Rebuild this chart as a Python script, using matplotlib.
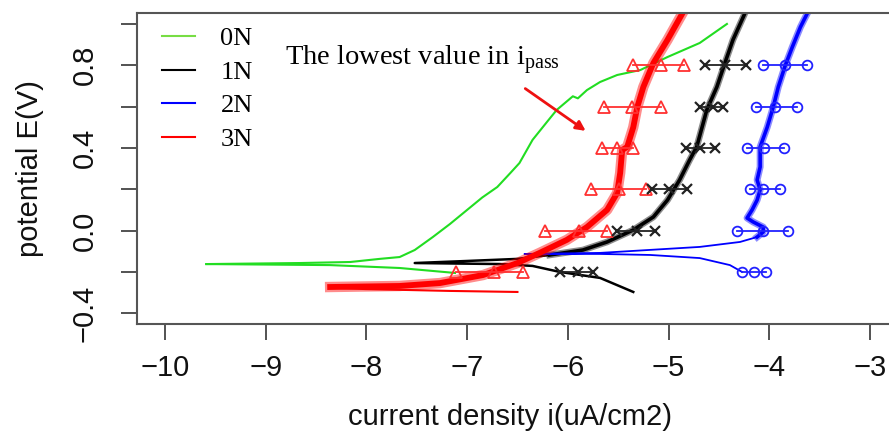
import numpy as np
import matplotlib.pyplot as plt
import matplotlib.patheffects as pe
from matplotlib.lines import Line2D

plt.rcParams['font.family'] = ['Liberation Sans', 'DejaVu Sans']
plt.rcParams['mathtext.fontset'] = 'custom'
plt.rcParams['mathtext.rm'] = 'Liberation Serif'

# curves: log current density vs potential
# 0N
green_cath_x = [-9.59, -8.36, -7.67, -7.12]
green_cath_E = [-0.162, -0.167, -0.181, -0.205]
green_x = [-9.59, -8.66, -8.16, -7.87, -7.67, -7.52, -7.34, -7.17, -7.00, -6.85,
           -6.70, -6.57, -6.48, -6.35, -6.20, -6.11, -5.95, -5.90, -5.81, -5.68,
           -5.51, -5.28, -5.01, -4.69, -4.42]
green_E = [-0.162, -0.157, -0.152, -0.137, -0.128, -0.094, -0.031, 0.032, 0.100, 0.160,
           0.211, 0.279, 0.327, 0.439, 0.530, 0.584, 0.650, 0.640, 0.680, 0.719,
           0.753, 0.777, 0.840, 0.908, 1.000]

# 1N
black_cath_x = [-5.35, -5.68, -6.08, -6.35, -6.67, -7.52, -7.00, -6.50, -6.18]
black_cath_E = [-0.297, -0.229, -0.200, -0.171, -0.162, -0.157, -0.147, -0.137, -0.118]
black_x = [-6.18, -5.85, -5.61, -5.35, -5.15, -5.01, -4.89, -4.79, -4.72, -4.62,
           -4.52, -4.44, -4.36, -4.24]
black_E = [-0.118, -0.094, -0.055, 0.003, 0.066, 0.148, 0.245, 0.342, 0.405, 0.584,
           0.695, 0.811, 0.923, 1.053]

# 2N
blue_cath_x = [-4.27, -4.39, -4.69, -5.18, -5.68, -6.43, -5.68, -4.69, -4.29, -4.12]
blue_cath_E = [-0.200, -0.167, -0.133, -0.118, -0.113, -0.113, -0.108, -0.079, -0.055, -0.031]
blue_x = [-4.12, -4.06, -4.06, -4.16, -4.22, -4.17, -4.12, -4.09, -4.12, -4.09,
          -4.09, -4.02, -3.96, -3.91, -3.84, -3.77, -3.69, -3.62]
blue_E = [-0.031, -0.007, 0.017, 0.042, 0.061, 0.100, 0.148, 0.197, 0.245, 0.308,
          0.405, 0.500, 0.598, 0.695, 0.800, 0.889, 0.985, 1.053]

# 3N
red_spur_x = [-6.50, -7.17, -8.01, -8.36]
red_spur_E = [-0.297, -0.292, -0.283, -0.276]
red_x = [-8.36, -7.67, -7.27, -6.84, -6.50, -6.28, -6.01, -5.81, -5.61, -5.51,
         -5.48, -5.46, -5.41, -5.35, -5.31, -5.25, -5.15, -5.01, -4.86]
red_E = [-0.273, -0.268, -0.254, -0.215, -0.157, -0.108, -0.045, 0.017, 0.100, 0.182,
         0.279, 0.390, 0.405, 0.500, 0.598, 0.695, 0.811, 0.923, 1.053]

# error bars (low, mean, high) at each potential
E_bars = [0.8, 0.6, 0.4, 0.2, 0.0, -0.2]
red_lo = [-5.35, -5.64, -5.66, -5.77, -6.23, -7.11]
red_mid = [-5.07, -5.36, -5.51, -5.49, -5.89, -6.73]
red_hi = [-4.85, -5.07, -5.35, -5.22, -5.61, -6.44]
black_lo = [-4.64, -4.69, -4.83, -5.16, -5.51, -6.08]
black_mid = [-4.44, -4.56, -4.69, -5.00, -5.31, -5.90]
black_hi = [-4.23, -4.46, -4.54, -4.82, -5.13, -5.75]
blue_lo = [-4.06, -4.13, -4.22, -4.19, -4.32, -4.27]
blue_mid = [-3.84, -3.94, -4.05, -4.06, -4.06, -4.15]
blue_hi = [-3.62, -3.72, -3.85, -3.89, -3.81, -4.03]

labels = ['0N', '1N', '2N', '3N']
GREEN = '#22dd22'
RED = '#ff0000'
BLUE = '#0000ff'
colors = ['#77dd44', 'black', BLUE, RED]


def fuzzy(w):
    # wider faint stroke under the line for the noisy passive region
    return [pe.Stroke(linewidth=w, alpha=0.45), pe.Normal()]


fig = plt.figure(figsize=(8.89, 4.38), dpi=100)
ax = fig.add_axes([0.1541, 0.2603, 0.8583, 0.7100])

ax.plot(green_cath_x, green_cath_E, color=GREEN, lw=1.5)
ax.plot(green_x, green_E, color=GREEN, lw=1.5)

ax.plot(black_cath_x, black_cath_E, color='black', lw=1.8)
ax.plot(black_x, black_E, color='black', lw=2.6, path_effects=fuzzy(4.8))

ax.plot(blue_cath_x, blue_cath_E, color=BLUE, lw=1.3)
ax.plot(blue_x, blue_E, color=BLUE, lw=2.6, path_effects=fuzzy(5.0))

ax.plot(red_spur_x, red_spur_E, color=RED, lw=1.5)
ax.plot(red_x, red_E, color=RED, lw=4.2, path_effects=fuzzy(7.5))

for i, E in enumerate(E_bars):
    ax.plot([red_lo[i], red_mid[i], red_hi[i]], [E]*3, color='#ff3030', lw=1.3,
            marker='^', ms=8, mfc='none', mew=1.3)
    ax.plot([black_lo[i], black_mid[i], black_hi[i]], [E]*3, color='#222222', lw=1.3,
            marker='x', ms=7, mew=1.6)
    ax.plot([blue_lo[i], blue_mid[i], blue_hi[i]], [E]*3, color='#2222ff', lw=1.3,
            marker='o', ms=7, mfc='none', mew=1.3)

ax.set_xlim(-10.278, -2.701)
ax.set_ylim(-0.452, 1.053)

ax.set_xticks(np.arange(-10, -2, 1))
yt = [-0.4, -0.2, 0.0, 0.2, 0.4, 0.6, 0.8, 1.0]
ax.set_yticks(yt)
ax.set_yticklabels(['\u22120.4', '', '0.0', '', '0.4', '', '0.8', ''],
                   rotation=90, va='center')
ax.tick_params(axis='both', direction='out', length=11.5, width=1.3,
               color='#444444', labelsize=21, labelcolor='#111111')
ax.tick_params(axis='x', pad=10)
ax.tick_params(axis='y', pad=16)

for s in ax.spines.values():
    s.set_color('#555555')
    s.set_linewidth(1.5)

ax.set_xlabel('current density i(uA/cm2)', fontsize=21, color='#111111')
ax.xaxis.set_label_coords(0.489, -0.255)
ax.set_ylabel('potential E(V)', fontsize=21, color='#111111')
ax.yaxis.set_label_coords(-0.122, 0.5)

handles = [Line2D([], [], color=c, lw=1.5) for c in colors]
leg = ax.legend(handles, labels, loc='upper left', bbox_to_anchor=(0.016, 0.998),
                frameon=False, prop={'family': 'Liberation Serif', 'size': 19},
                handlelength=1.25, handletextpad=0.95, labelspacing=0.38, borderpad=0)

ax.text(-8.81, 0.80, 'The lowest value in i$_{\\mathrm{pass}}$',
        family='Liberation Serif', fontsize=20.5, va='baseline')
ax.annotate('', xy=(-5.80, 0.475), xytext=(-6.445, 0.695),
            arrowprops=dict(arrowstyle='-|>', color='#ee1111', lw=2,
                            mutation_scale=14))

fig.savefig('out.png', dpi=100)
